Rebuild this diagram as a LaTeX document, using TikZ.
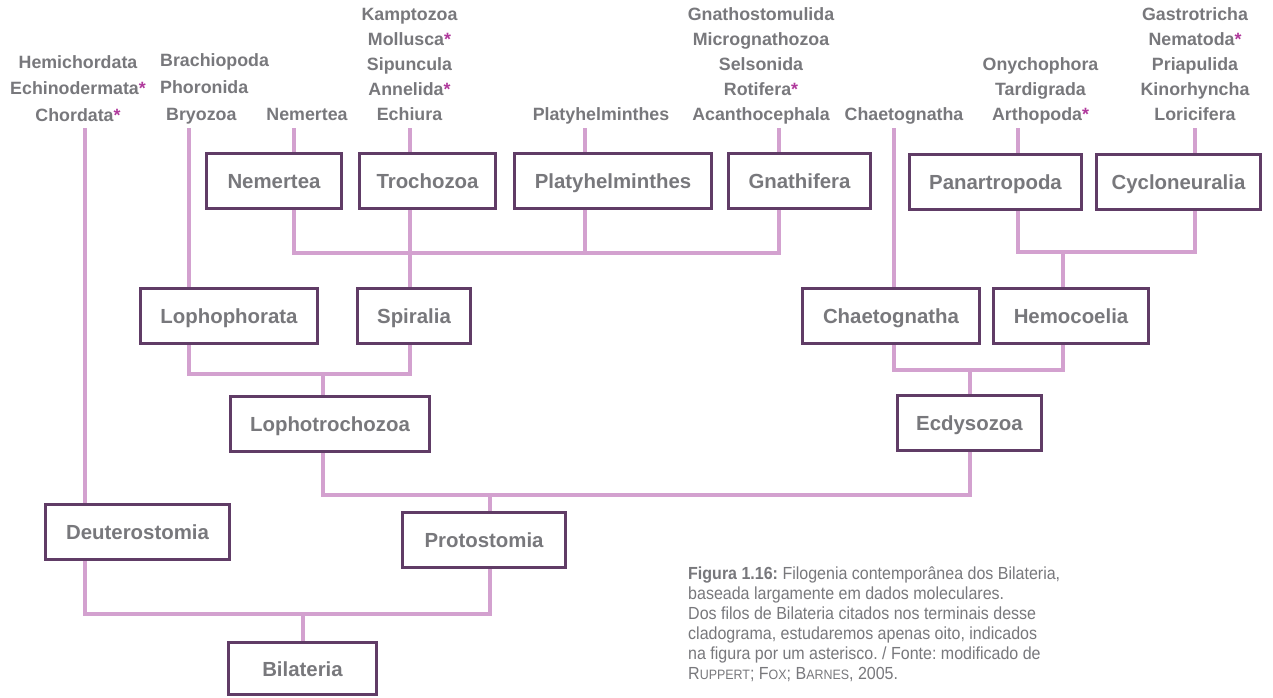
\documentclass[tikz,border=0pt]{standalone}
\usepackage{fontspec}
\setmainfont{Liberation Sans}
\newfontfamily\captionfont[FakeStretch=0.915]{Liberation Sans}
\usetikzlibrary{backgrounds}
\definecolor{txtgray}{RGB}{120,120,124}
\definecolor{boxc}{RGB}{96,60,102}
\definecolor{linkc}{RGB}{211,161,207}
\definecolor{astc}{RGB}{176,57,156}
\newcommand\studied{{\color{astc}*}}
\newcommand\fakesc[1]{{\fontsize{13.6}{20}\selectfont #1}}
\tikzset{
  taxon/.style={draw=boxc, line width=3.2pt, fill=white, inner sep=0pt,
    text=txtgray, font=\fontsize{20.4}{24}\selectfont\bfseries,
    text height=15pt, text depth=0pt, minimum height=55pt},
  phyla/.style={text=txtgray, inner sep=0pt, align=center, anchor=base,
    font=\fontsize{17.8}{25}\selectfont\bfseries},
  link/.style={draw=linkc, line width=3.5pt, line join=miter}
}
\begin{document}
\begin{tikzpicture}[x=1pt,y=-1pt]
\useasboundingbox (0,0) rectangle (1273,698);

% terminal phyla (each stack is placed by the baseline of its last line)
\node[phyla, font=\fontsize{17.8}{26.7}\selectfont\bfseries] (deutL) at (78,121.5)
  {Hemichordata\\Echinodermata\studied\\Chordata\studied};
\node[phyla, align=left, anchor=base west, font=\fontsize{17.8}{27}\selectfont\bfseries] (lophL) at (160,121)
  {Brachiopoda\\Phoronida\\\hspace*{6pt}Bryozoa};
\node[phyla] (nemL) at (307,121) {Nemertea};
\node[phyla] (trocL) at (409.5,121) {Kamptozoa\\Mollusca\studied\\Sipuncula\\Annelida\studied\\Echiura};
\node[phyla] (platL) at (601,121) {Platyhelminthes};
\node[phyla] (gnatL) at (761,121) {Gnathostomulida\\Micrognathozoa\\Selsonida\\Rotifera\studied\\Acanthocephala};
\node[phyla] (chaeL) at (904,121) {Chaetognatha};
\node[phyla] (panL) at (1040.5,121) {Onychophora\\Tardigrada\\Arthopoda\studied};
\node[phyla] (cycL) at (1195,121) {Gastrotricha\\Nematoda\studied\\Priapulida\\Kinorhyncha\\Loricifera};

% clade boxes
\node[taxon, minimum width=135pt] (nem)  at (274,181)   {Nemertea};
\node[taxon, minimum width=136pt] (troc) at (427.5,181) {Trochozoa};
\node[taxon, minimum width=197pt] (plat) at (613,181)   {Platyhelminthes};
\node[taxon, minimum width=142pt] (gnat) at (799.5,181) {Gnathifera};
\node[taxon, minimum width=172pt] (pan)  at (995.5,182) {Panartropoda};
\node[taxon, minimum width=164pt] (cyc)  at (1178.5,182) {Cycloneuralia};
\node[taxon, minimum width=177pt] (loph) at (229,316)   {Lophophorata};
\node[taxon, minimum width=113pt] (spir) at (414,316)   {Spiralia};
\node[taxon, minimum width=177pt] (chae) at (891,316)   {Chaetognatha};
\node[taxon, minimum width=155pt] (hemo) at (1071,316)  {Hemocoelia};
\node[taxon, minimum width=199pt] (lotr) at (330,424)   {Lophotrochozoa};
\node[taxon, minimum width=144pt] (ecdy) at (969.5,423) {Ecdysozoa};
\node[taxon, minimum width=184pt] (deut) at (137.5,532) {Deuterostomia};
\node[taxon, minimum width=163pt] (prot) at (484,540)   {Protostomia};
\node[taxon, minimum width=148pt, minimum height=52pt] (bila) at (302.5,668.5) {Bilateria};

% caption (placed by the baseline of its last line)
\node[text=txtgray, inner sep=0pt, align=left, anchor=base west,
      font=\captionfont\fontsize{17.5}{20}\selectfont\frenchspacing] (cap) at (688,679)
  {\textbf{Figura 1.16:} Filogenia contemporânea dos Bilateria,\\
   baseada largamente em dados moleculares.\\
   Dos filos de Bilateria citados nos terminais desse\\
   cladograma, estudaremos apenas oito, indicados\\
   na figura por um asterisco. / Fonte: modificado de\\
   R\fakesc{UPPERT}; F\fakesc{OX}; B\fakesc{ARNES}, 2005.};

% upper ends of the terminal branches
\coordinate (tD) at (85,128);
\coordinate (tL) at (189,128);
\coordinate (tN) at (294,128);
\coordinate (tT) at (410,128);
\coordinate (tP) at (585,128);
\coordinate (tG) at (779,128);
\coordinate (tC) at (894,128);
\coordinate (tA) at (1018,128);
\coordinate (tY) at (1195,128);
% branching points
\coordinate (jSp) at (410,253);
\coordinate (jHe) at (1063,252);
\coordinate (jLT) at (323,374);
\coordinate (jEc) at (970,370);
\coordinate (jPr) at (490,495);
\coordinate (jBi) at (303,614);

\begin{scope}[on background layer]
\fill[white] (0,0) rectangle (1273,698);
% terminal branches
\draw[link] (tD) -- (deut.north -| tD);
\draw[link] (tL) -- (loph.north -| tL);
\draw[link] (tN) -- (nem.north -| tN);
\draw[link] (tT) -- (troc.north -| tT);
\draw[link] (tP) -- (plat.north -| tP);
\draw[link] (tG) -- (gnat.north -| tG);
\draw[link] (tC) -- (chae.north -| tC);
\draw[link] (tA) -- (pan.north -| tA);
\draw[link] (tY) -- (cyc.north -| tY);
% Spiralia
\draw[link] (nem.south -| tN) |- (jSp) -| (gnat.south -| tG);
\draw[link] (troc.south -| tT) -- (spir.north -| tT);
\draw[link] (plat.south -| tP) -- (tP |- jSp);
% Hemocoelia
\draw[link] (pan.south -| tA) |- (jHe) -| (cyc.south -| tY);
\draw[link] (jHe) -- (hemo.north -| jHe);
% Lophotrochozoa
\draw[link] (loph.south -| tL) |- (jLT) -| (spir.south -| tT);
\draw[link] (jLT) -- (lotr.north -| jLT);
% Ecdysozoa
\draw[link] (chae.south -| tC) |- (jEc) -| (hemo.south -| jHe);
\draw[link] (jEc) -- (ecdy.north -| jEc);
% Protostomia
\draw[link] (lotr.south -| jLT) |- (jPr) -| (ecdy.south -| jEc);
\draw[link] (jPr) -- (prot.north -| jPr);
% Bilateria
\draw[link] (deut.south -| tD) |- (jBi) -| (prot.south -| jPr);
\draw[link] (jBi) -- (bila.north -| jBi);
\end{scope}
\end{tikzpicture}
\end{document}
